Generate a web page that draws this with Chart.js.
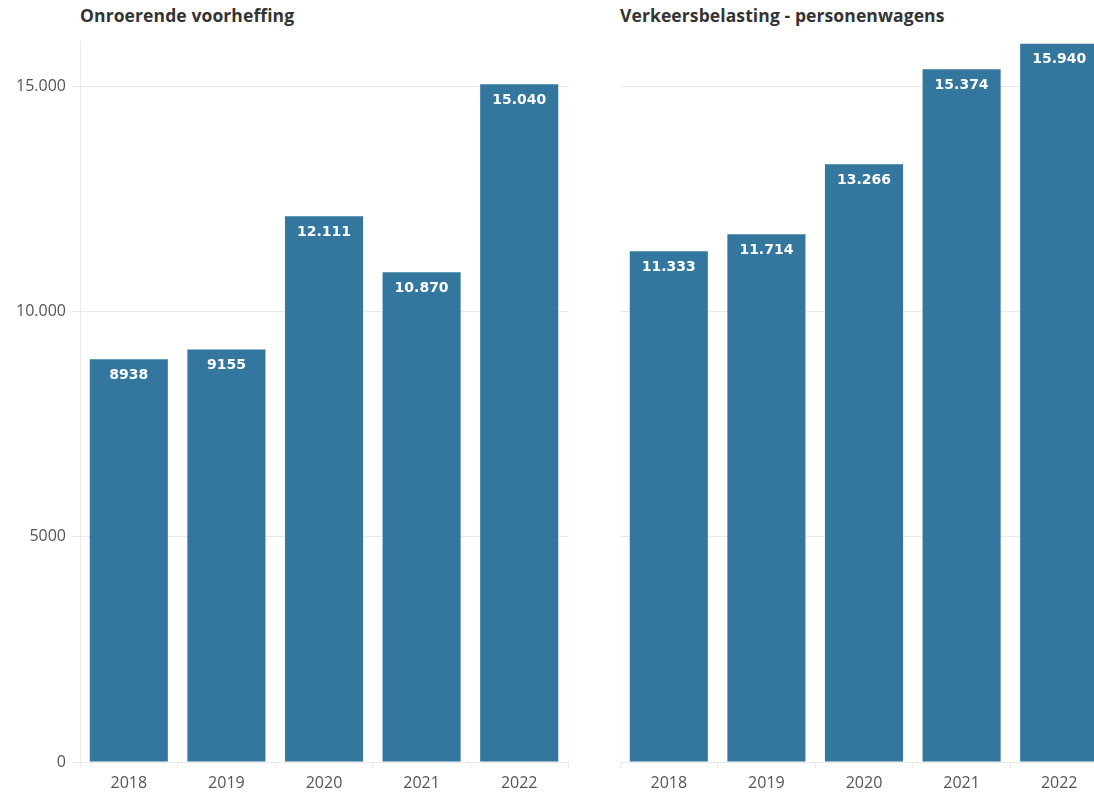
<!DOCTYPE html>
<html>
<head>
<meta charset="utf-8">
<script src="https://cdn.jsdelivr.net/npm/chart.js@4"></script>
<style>
  html, body { margin: 0; padding: 0; background: #fff; overflow: hidden; width: 1094px; height: 793px; }
  .panel { position: absolute; top: 0; height: 793px; }
  .title { position: absolute; top: 3px; font: bold 17.5px "Open Sans", sans-serif; color: #333; white-space: nowrap; letter-spacing: 0.1px; }
</style>
</head>
<body>
<div class="title" style="left:80px">Onroerende voorheffing</div>
<div class="title" style="left:620px">Verkeersbelasting - personenwagens</div>
<div class="panel" style="left:0; width:580px"><canvas id="left" width="580" height="793"></canvas></div>
<div class="panel" style="left:600px; width:520px"><canvas id="right" width="520" height="793"></canvas></div>
<script>
const years = ['2018', '2019', '2020', '2021', '2022'];
const onroerend = [8938, 9155, 12111, 10870, 15040];
const verkeer = [11333, 11714, 13266, 15374, 15940];
const yTicks = [0, 5000, 10000, 15000];
const yMax = 16000;

const barColor = '#33779f';
const gridColor = '#e9e9e9';

function fmt(v) {
  if (v < 10000) return String(v);
  return String(v).replace(/\B(?=(\d{3})+(?!\d))/g, '.');
}

// white value labels inside top of bars
const barLabels = {
  id: 'barLabels',
  afterDatasetsDraw(chart) {
    const ctx = chart.ctx;
    const vals = chart.data.datasets[0].data;
    ctx.save();
    ctx.font = 'bold 14px "DejaVu Sans", sans-serif';
    ctx.fillStyle = '#fff';
    ctx.textAlign = 'center';
    ctx.textBaseline = 'middle';
    chart.getDatasetMeta(0).data.forEach((bar, i) => {
      ctx.fillText(fmt(vals[i]), bar.x, bar.y + 16);
    });
    ctx.restore();
  }
};

function makeChart(id, values, showY) {
  const ctx = document.getElementById(id).getContext('2d');
  return new Chart(ctx, {
    type: 'bar',
    data: {
      labels: years,
      datasets: [{
        data: values,
        backgroundColor: barColor,
        categoryPercentage: 1,
        barPercentage: 0.8,
      }],
    },
    options: {
      responsive: false,
      animation: false,
      layout: { padding: { top: 41, right: 12, left: 0, bottom: 0 } },
      plugins: { legend: { display: false }, tooltip: { enabled: false } },
      scales: {
        x: {
          border: { display: false },
          grid: { drawOnChartArea: false, drawTicks: true, tickLength: 6, color: gridColor },
          ticks: { color: '#555', font: { family: 'Open Sans', size: 16 }, padding: 6 },
          afterFit(scale) { scale.height = 31; },
        },
        y: {
          min: 0,
          max: yMax,
          afterBuildTicks(scale) {
            scale.ticks = yTicks.map(v => ({ value: v }));
          },
          border: { display: showY, color: gridColor },
          grid: { color: gridColor, drawTicks: showY, tickLength: 8 },
          ticks: {
            display: showY,
            color: '#555',
            font: { family: 'Open Sans', size: 16 },
            padding: 6,
            callback: v => fmt(v),
          },
          afterFit(scale) { scale.width = showY ? 80 : 20; },
        },
      },
    },
    plugins: [barLabels],
  });
}

makeChart('left', onroerend, true);
makeChart('right', verkeer, false);
</script>
</body>
</html>
